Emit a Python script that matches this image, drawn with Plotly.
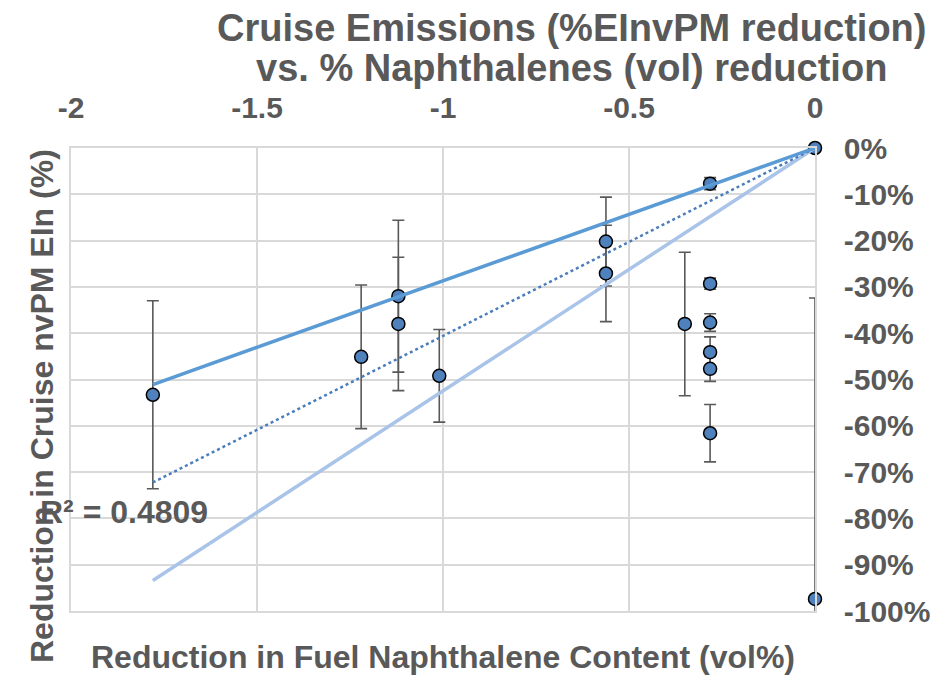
import numpy as np
import plotly.graph_objects as go

# ---- data ----
naph_reduction = [-1.78, -1.22, -1.12, -1.12, -1.01, -0.562, -0.562, -0.35,
                  -0.282, -0.282, -0.282, -0.282, -0.282, -0.282, 0.0, 0.0]
nvpm_reduction = [-53.3, -45.1, -32.0, -38.0, -49.2, -20.2, -27.1, -38.0,
                  -7.7, -29.3, -37.7, -44.1, -47.7, -61.6, 0.0, -97.4]
nvpm_error = [20.3, 15.5, 16.4, 14.4, 10.0, 9.6, 10.4, 15.5,
              1.3, 1.2, 1.9, 3.3, 2.7, 6.2, 0.0, 65.0]

upper_line_x = [-1.78, 0.0]
upper_line_y = [-51.1, 0.0]
lower_line_x = [-1.78, 0.0]
lower_line_y = [-93.4, 0.0]

x_tickvals = [-2, -1.5, -1, -0.5, 0]
x_ticktext = ["-2", "-1.5", "-1", "-0.5", "0"]
y_tickvals = [0, -10, -20, -30, -40, -50, -60, -70, -80, -90, -100]
y_ticktext = ["0%", "-10%", "-20%", "-30%", "-40%", "-50%", "-60%",
              "-70%", "-80%", "-90%", "-100%"]
title_lines = ["Cruise Emissions (%EInvPM reduction)",
               "vs. % Naphthalenes (vol) reduction"]
r_squared_text = "R² = 0.4809"

# linear trendline through origin (least squares)
xa = np.array(naph_reduction)
ya = np.array(nvpm_reduction)
slope = float((xa * ya).sum() / (xa * xa).sum())
trend_x = [float(xa.min()), 0.0]
trend_y = [slope * v for v in trend_x]

GRAY = "#595959"
FONT = "Liberation Sans, Arial, sans-serif"

# page body has an 8px margin, so the figure is sized to fit the window
W, H = 935, 668

fig = go.Figure()
# error bars (clipped to the plot area)
fig.add_trace(go.Scatter(
    x=naph_reduction, y=nvpm_reduction, mode="markers",
    marker=dict(size=13, opacity=0),
    error_y=dict(type="data", array=nvpm_error, visible=True,
                 color=GRAY, thickness=1.6, width=6),
    hoverinfo="skip", showlegend=False))
# markers (not clipped at the plot edge)
fig.add_trace(go.Scatter(
    x=naph_reduction, y=nvpm_reduction, mode="markers", cliponaxis=False,
    marker=dict(size=13, color="#4F81BD", line=dict(color="#000000", width=1.5)),
    showlegend=False))
fig.add_trace(go.Scatter(x=lower_line_x, y=lower_line_y, mode="lines",
                         line=dict(color="#A9C4E8", width=3.5), showlegend=False))
fig.add_trace(go.Scatter(x=trend_x, y=trend_y, mode="lines",
                         line=dict(color="#4A7EBB", width=2.5, dash="dot"),
                         showlegend=False))
fig.add_trace(go.Scatter(x=upper_line_x, y=upper_line_y, mode="lines",
                         line=dict(color="#5B9BD5", width=3.5), showlegend=False))

title_font = dict(size=38, color=GRAY, family=FONT)
fig.update_layout(
    width=W, height=H,
    margin=dict(l=63, r=128, t=140, b=65),
    paper_bgcolor="white", plot_bgcolor="white",
    font=dict(family=FONT, color=GRAY),
    xaxis=dict(range=[-2, 0], side="top", tickvals=x_tickvals, ticktext=x_ticktext,
               showgrid=True, gridcolor="#D9D9D9", gridwidth=1.5,
               zeroline=False, showline=True, linecolor="#D9D9D9", linewidth=1.5,
               mirror=True, ticks="", ticklabelstandoff=16,
               tickfont=dict(size=30, color=GRAY, family=FONT, weight="bold")),
    yaxis=dict(range=[-100, 0], side="right", tickvals=y_tickvals, ticktext=y_ticktext,
               showgrid=True, gridcolor="#D9D9D9", gridwidth=1.5,
               zeroline=False, showline=True, linecolor="#D9D9D9", linewidth=1.5,
               mirror=True, ticks="", ticklabelstandoff=21,
               tickfont=dict(size=30, color=GRAY, family=FONT, weight="bold")),
    annotations=[
        dict(text="<b>" + title_lines[0] + "</b>", xref="paper", yref="paper",
             x=(571 - 71) / 744, y=(611 - 28) / 463, xanchor="center", yanchor="middle",
             showarrow=False, font=title_font),
        dict(text="<b>" + title_lines[1] + "</b>", xref="paper", yref="paper",
             x=(571 - 71) / 744, y=(611 - 68) / 463, xanchor="center", yanchor="middle",
             showarrow=False, font=title_font),
        dict(text="<b>Reduction in Cruise nvPM EIn (%)</b>", xref="paper", yref="paper",
             x=(42 - 71) / 744, y=(611 - 406) / 463, textangle=-90,
             xanchor="center", yanchor="middle",
             showarrow=False, font=dict(size=32, color=GRAY, family=FONT)),
        dict(text="<b>Reduction in Fuel Naphthalene Content (vol%)</b>", xref="paper",
             yref="paper", x=0.5, y=-(657 - 611) / 463, xanchor="center", yanchor="middle",
             showarrow=False, font=dict(size=32, color=GRAY, family=FONT)),
        dict(text="<b>" + r_squared_text + "</b>", xref="x", yref="y",
             x=-1.857, y=-78.6, xanchor="center", yanchor="middle", showarrow=False,
             font=dict(size=32, color=GRAY, family=FONT)),
    ],
)

fig.write_html("out.html")
